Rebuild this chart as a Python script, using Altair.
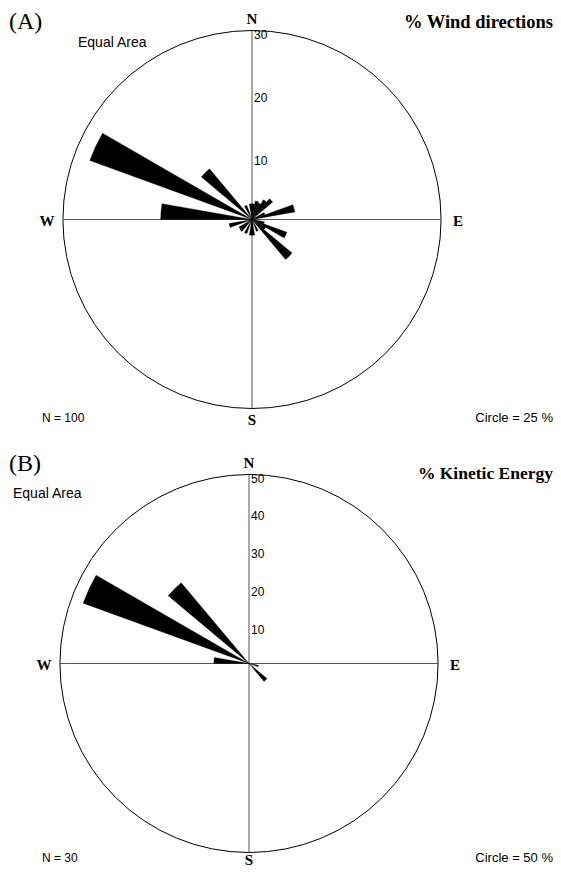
import math
import altair as alt
import pandas as pd

# ---- data ----
bin_centers = list(range(5, 360, 10))  # compass bearings of 10-degree bins

# (A) % wind directions, one value per 10-degree bin (5, 15, ..., 355)
wind_pct = [2.5, 3.0, 2.8, 3.6, 4.3, 0, 2.2, 6.9, 0, 0,
            2.0, 5.9, 2.5, 8.3, 0, 2.0, 0, 2.5, 2.5, 0,
            2.4, 0, 2.5, 2.4, 0, 3.7, 0, 14.5, 0, 27.4,
            0, 10.5, 0, 2.4, 0, 2.5]

# (B) % kinetic energy per bin
energy_pct = [0, 0, 0, 0, 0, 0, 0, 0, 0, 0,
              2.5, 0, 0, 6.2, 0, 0, 0, 0, 0, 0,
              0, 0, 0, 0, 0, 0, 0, 9.3, 0, 46.7,
              0, 27.9, 0, 0, 0, 0]

ticks_A = [10, 20, 30]
ticks_B = [10, 20, 30, 40, 50]

SERIF = "Liberation Serif"
SANS = "Liberation Sans"
W = 545


def text_layer(txt, x, y, size=12, font=SANS, bold=False, align="left", baseline="middle"):
    return alt.Chart(pd.DataFrame({"t": [txt]})).mark_text(
        font=font, fontSize=size, fontWeight="bold" if bold else "normal",
        align=align, baseline=baseline, color="black"
    ).encode(x=alt.value(x), y=alt.value(y), text="t:N")


def panel(values, ticks, rmax, cx, cy, R, height, tag, title, title_size, n_text, circ_text,
          ea_xy, title_y, foot_y, s_y):
    df = pd.DataFrame({"dir": bin_centers, "value": values})
    df = df[df["value"] > 0].copy()
    df["start"] = df["dir"] - 5
    df["end"] = df["dir"] + 5

    rscale = alt.Scale(type="linear", domain=[0, rmax], range=[0, R], zero=True)
    tscale = alt.Scale(domain=[0, 360], range=[0, 2 * math.pi])

    one = pd.DataFrame({"a": [0]})
    circle = alt.Chart(one).mark_arc(
        theta=0, theta2=2 * math.pi, radius=R, fill="white", fillOpacity=0,
        stroke="black", strokeWidth=1
    ).encode(x=alt.value(cx), y=alt.value(cy))

    hline = alt.Chart(one).mark_rule(color="#555", strokeWidth=1).encode(
        x=alt.value(cx - R), x2=alt.value(cx + R), y=alt.value(cy))
    vline = alt.Chart(one).mark_rule(color="#555", strokeWidth=1).encode(
        y=alt.value(cy - R), y2=alt.value(cy + R), x=alt.value(cx))

    petals = alt.Chart(df).mark_arc(color="black", stroke="black", strokeWidth=0.3).encode(
        theta=alt.Theta("start:Q", scale=tscale, stack=False),
        theta2="end:Q",
        radius=alt.Radius("value:Q", scale=rscale),
        x=alt.value(cx), y=alt.value(cy),
    )

    tdf = pd.DataFrame({"tick": ticks, "label": [str(t) for t in ticks]})
    tick_labels = alt.Chart(tdf).mark_text(
        font=SANS, fontSize=12, align="left", baseline="middle", dx=2, dy=4, color="black"
    ).encode(
        theta=alt.value(0),
        radius=alt.Radius("tick:Q", scale=rscale),
        text="label:N",
        x=alt.value(cx), y=alt.value(cy),
    )

    layers = [
        circle, hline, vline, petals, tick_labels,
        text_layer(tag, 1, 14, size=24, font=SERIF),
        text_layer("Equal Area", ea_xy[0], ea_xy[1], size=14),
        text_layer(title, W, title_y, size=title_size, font=SERIF, bold=True, align="right"),
        text_layer("N", cx, cy - R - 12, size=15, font=SERIF, bold=True, align="center"),
        text_layer("S", cx, s_y, size=15, font=SERIF, bold=True, align="center"),
        text_layer("W", cx - R - 16, cy + 1, size=15, font=SERIF, bold=True, align="center"),
        text_layer("E", cx + R + 17, cy + 1, size=15, font=SERIF, bold=True, align="center"),
        text_layer(n_text, 34, foot_y, size=12),
        text_layer(circ_text, W, foot_y, size=13, align="right"),
    ]
    return alt.layer(*layers).properties(width=W, height=height)


panel_A = panel(wind_pct, ticks_A, 30, 244, 211.5, 189, 442, "(A)", "% Wind directions", 18.5,
                "N =  100", "Circle =  25 %", (70, 35), 14, 410, 412)
panel_B = panel(energy_pct, ticks_B, 50, 241, 213.5, 189, 417, "(B)", "% Kinetic Energy", 17.5,
                "N =  30", "Circle =  50 %", (5, 44), 24, 408, 410)

chart = alt.vconcat(panel_A, panel_B, spacing=0).properties(padding=0).configure_view(stroke=None)

chart.save("out.html", embed_options={"renderer": "svg", "actions": False})
